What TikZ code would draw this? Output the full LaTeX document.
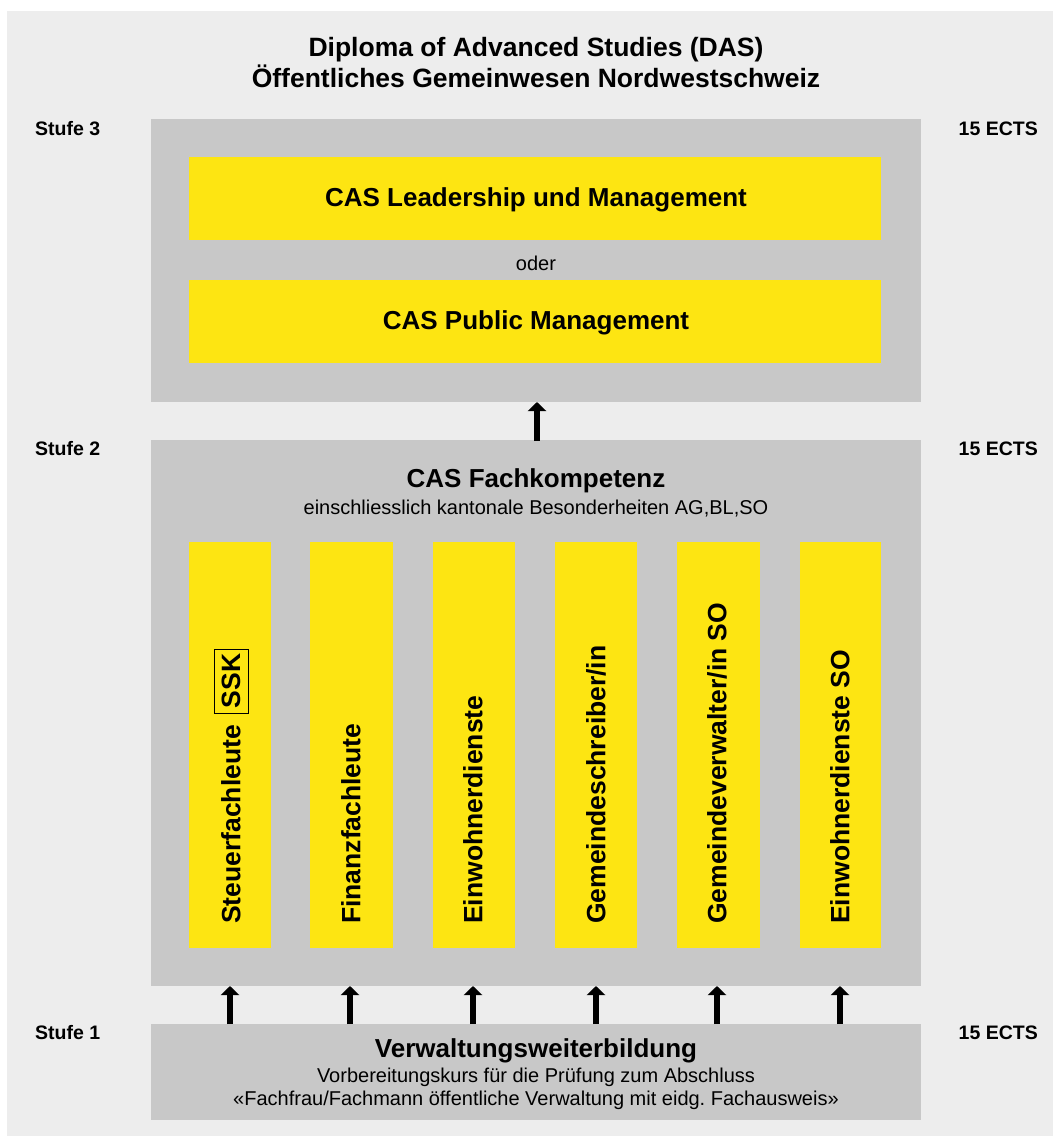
\documentclass[tikz,border=0pt]{standalone}
\usepackage{fontspec}
\setmainfont{Liberation Sans}
\usetikzlibrary{arrows.meta}
\definecolor{bgc}{HTML}{EDEDED}
\definecolor{boxc}{HTML}{C8C8C8}
\definecolor{yelc}{HTML}{FDE512}
\tikzset{
  lvl/.style={fill=boxc, draw=none},
  ybox/.style={fill=yelc, draw=none},
  stufe/.style={font=\fontsize{19.5}{23}\selectfont\bfseries, anchor=west, inner sep=0pt},
  ects/.style={font=\fontsize{19.5}{23}\selectfont\bfseries, anchor=east, inner sep=0pt},
  big/.style={font=\fontsize{26}{31}\selectfont\bfseries, inner sep=0pt},
  small/.style={font=\fontsize{20}{23}\selectfont, inner sep=0pt},
  coltext/.style={font=\fontsize{26.5}{30}\selectfont\bfseries, rotate=90, anchor=west, inner sep=0pt},
  arr/.style={line width=6pt, -{Triangle[width=18pt,length=9pt]}, black}
}
\begin{document}
\begin{tikzpicture}[x=1pt,y=-1pt]
\useasboundingbox (0,0) rectangle (1053,1136);
\fill[bgc] (7,11) rectangle (1053,1136);
% title
\node[big, align=center, font=\fontsize{26.5}{31}\selectfont\bfseries] (title) at (536,63) {Diploma of Advanced Studies (DAS)\\Öffentliches Gemeinwesen Nordwestschweiz};
% level boxes
\path[lvl] (151,119) rectangle (921,402);
\coordinate (s3b) at (537,402);
\coordinate (s2t) at (537,441);
\path[lvl] (151,440) rectangle (921,986);
\path[lvl] (151,1024) rectangle (921,1120);
% stufe labels
\node[stufe] (st3) at (35,129) {Stufe 3};
\node[stufe] (st2) at (35,449) {Stufe 2};
\node[stufe] (st1) at (35,1033) {Stufe 1};
\node[ects] (e3) at (1038,129) {15 ECTS};
\node[ects] (e2) at (1038,449) {15 ECTS};
\node[ects] (e1) at (1038,1033) {15 ECTS};
% stufe 3
\path[ybox] (189,157) rectangle (881,240);
\node[big] (lead) at (536,200) {CAS Leadership und Management};
\node[small] (oder) at (536,263) {oder};
\path[ybox] (189,280) rectangle (881,363);
\node[big] (pm) at (536,323) {CAS Public Management};
\draw[arr] (s2t) -- (s3b);
% stufe 2
\node[big] (fk) at (536,481) {CAS Fachkompetenz};
\node[small] (fk2) at (536,509) {einschliesslich kantonale Besonderheiten AG,BL,SO};
\foreach \i/\xa/\xb/\xm in {1/189/271/230, 2/310/393/350, 3/433/515/473, 4/555/637/596, 5/677/760/717, 6/800/881/840}{
  \path[ybox] (\xa,542) rectangle (\xb,948);
  \coordinate (c\i) at (\xm,1024);
  \coordinate (d\i) at (\xm,986);
  \draw[arr] (c\i) -- (d\i);
}
\node[coltext] (t1) at (231,924) {Steuerfachleute};
\node[draw=black, line width=0.9pt, rotate=90, minimum width=64pt, minimum height=34pt, inner sep=0pt, font=\fontsize{26.5}{30}\selectfont\bfseries] (ssk) at (231,681) {SSK};
\node[coltext] (t2) at (351,924) {Finanzfachleute};
\node[coltext] (t3) at (473,924) {Einwohnerdienste};
\node[coltext] (t4) at (596,924) {Gemeindeschreiber/in};
\node[coltext] (t5) at (717,924) {Gemeindeverwalter/in SO};
\node[coltext] (t6) at (840,924) {Einwohnerdienste SO};
% stufe 1
\node[big] (vw) at (536,1051) {Verwaltungsweiterbildung};
\node[small, align=center] (vw2) at (536,1089) {Vorbereitungskurs für die Prüfung zum Abschluss\\«Fachfrau/Fachmann öffentliche Verwaltung mit eidg.\ Fachausweis»};
\end{tikzpicture}
\end{document}
